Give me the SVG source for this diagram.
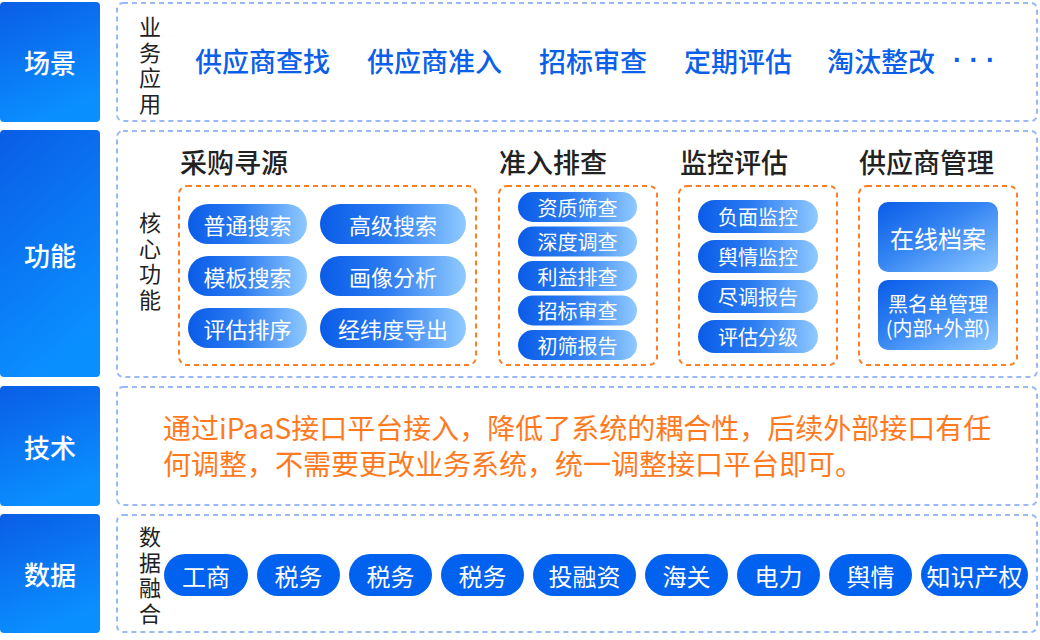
<svg xmlns="http://www.w3.org/2000/svg" width="1040" height="640" viewBox="0 0 1040 640">
<defs>
  <linearGradient id="side" x1="0" y1="0" x2="0.35" y2="1">
    <stop offset="0" stop-color="#0a5de6"/>
    <stop offset="1" stop-color="#0a8fff"/>
  </linearGradient>
  <linearGradient id="pill" x1="0" y1="0" x2="1" y2="0">
    <stop offset="0" stop-color="#0a5ce8"/>
    <stop offset="0.45" stop-color="#2b7bf1"/>
    <stop offset="1" stop-color="#90caff"/>
  </linearGradient>
  <linearGradient id="card" x1="0" y1="0" x2="1" y2="1">
    <stop offset="0" stop-color="#0a5ce8"/>
    <stop offset="0.45" stop-color="#3585f3"/>
    <stop offset="1" stop-color="#90caff"/>
  </linearGradient>
  <style>
    text { font-family: "Noto Sans CJK SC", "Noto Sans", sans-serif; }
    .side { fill: url(#side); }
    .sidet { fill: #ffffff; font-size: 26px; font-weight: 500; text-anchor: middle; dominant-baseline: central; }
    .panel { fill: #ffffff; stroke: #98b9f6; stroke-width: 2; stroke-dasharray: 5 4; }
    .obox { fill: none; stroke: #ff7d23; stroke-width: 2; stroke-dasharray: 5 4; }
    .vlab { fill: #222222; font-size: 22px; writing-mode: vertical-rl; letter-spacing: 3.5px; }
    .scene { fill: #0b5fe8; font-size: 27px; font-weight: 500; dominant-baseline: central; }
    .dots { fill: #0b5fe8; font-family: "Liberation Sans", sans-serif; font-size: 27px; font-weight: 700; text-anchor: middle; dominant-baseline: central; }
    .title { fill: #222222; font-size: 27px; font-weight: 500; dominant-baseline: central; }
    .pill { fill: url(#pill); }
    .card { fill: url(#card); }
    .pt22 { fill: #ffffff; font-size: 22px; text-anchor: middle; dominant-baseline: central; }
    .pt20 { fill: #ffffff; font-size: 20px; text-anchor: middle; dominant-baseline: central; }
    .pt24 { fill: #ffffff; font-size: 24px; text-anchor: middle; dominant-baseline: central; }
    .tech { fill: #ff7a1e; font-size: 28px; dominant-baseline: central; }
    .data { fill: #0062ee; }
  </style>
</defs>

<!-- Row 1: 场景 -->
<g id="row-scene">
  <rect class="side" x="0" y="2" width="100" height="120" rx="4"/>
  <text class="sidet" x="50" y="61">场景</text>
  <rect class="panel" x="117" y="3" width="920" height="118" rx="6"/>
  <text class="vlab" x="150" y="16">业务应用</text>
  <text class="scene" x="195" y="60">供应商查找</text>
  <text class="scene" x="367" y="60">供应商准入</text>
  <text class="scene" x="539" y="60">招标审查</text>
  <text class="scene" x="684" y="60">定期评估</text>
  <text class="scene" x="827" y="60">淘汰整改</text>
  <text class="dots" x="974" y="60">· · ·</text>
</g>

<!-- Row 2: 功能 -->
<g id="row-func">
  <rect class="side" x="0" y="130" width="100" height="247" rx="4"/>
  <text class="sidet" x="50" y="254">功能</text>
  <rect class="panel" x="117" y="131" width="920" height="246" rx="6"/>
  <text class="vlab" x="150" y="212">核心功能</text>
</g>

<g id="group-sourcing">
  <text class="title" x="180" y="161">采购寻源</text>
  <rect class="obox" x="179" y="186" width="297" height="179" rx="8"/>
  <rect class="pill" x="188" y="204" width="119" height="40" rx="20"/>
  <text class="pt22" x="247.5" y="224">普通搜索</text>
  <rect class="pill" x="320" y="204" width="146" height="40" rx="20"/>
  <text class="pt22" x="393" y="224">高级搜索</text>
  <rect class="pill" x="188" y="256" width="119" height="40" rx="20"/>
  <text class="pt22" x="247.5" y="276">模板搜索</text>
  <rect class="pill" x="320" y="256" width="146" height="40" rx="20"/>
  <text class="pt22" x="393" y="276">画像分析</text>
  <rect class="pill" x="188" y="308" width="119" height="40" rx="20"/>
  <text class="pt22" x="247.5" y="328">评估排序</text>
  <rect class="pill" x="320" y="308" width="146" height="40" rx="20"/>
  <text class="pt22" x="393" y="328">经纬度导出</text>
</g>

<g id="group-admission">
  <text class="title" x="499" y="161">准入排查</text>
  <rect class="obox" x="499" y="186" width="158" height="179" rx="8"/>
  <rect class="pill" x="518" y="192" width="119" height="30" rx="15"/>
  <text class="pt20" x="577.5" y="207">资质筛查</text>
  <rect class="pill" x="518" y="226.5" width="119" height="30" rx="15"/>
  <text class="pt20" x="577.5" y="241.5">深度调查</text>
  <rect class="pill" x="518" y="261" width="119" height="30" rx="15"/>
  <text class="pt20" x="577.5" y="276">利益排查</text>
  <rect class="pill" x="518" y="295.5" width="119" height="30" rx="15"/>
  <text class="pt20" x="577.5" y="310.5">招标审查</text>
  <rect class="pill" x="518" y="330" width="119" height="30" rx="15"/>
  <text class="pt20" x="577.5" y="345">初筛报告</text>
</g>

<g id="group-monitor">
  <text class="title" x="680" y="161">监控评估</text>
  <rect class="obox" x="679" y="186" width="158" height="179" rx="8"/>
  <rect class="pill" x="698" y="200" width="120" height="33" rx="16.5"/>
  <text class="pt20" x="758" y="216.5">负面监控</text>
  <rect class="pill" x="698" y="240" width="120" height="33" rx="16.5"/>
  <text class="pt20" x="758" y="256.5">舆情监控</text>
  <rect class="pill" x="698" y="280" width="120" height="33" rx="16.5"/>
  <text class="pt20" x="758" y="296.5">尽调报告</text>
  <rect class="pill" x="698" y="320" width="120" height="33" rx="16.5"/>
  <text class="pt20" x="758" y="336.5">评估分级</text>
</g>

<g id="group-supplier">
  <text class="title" x="859" y="161">供应商管理</text>
  <rect class="obox" x="859" y="186" width="158" height="179" rx="8"/>
  <rect class="card" x="878" y="202" width="120" height="70" rx="10"/>
  <text class="pt24" x="938" y="237">在线档案</text>
  <rect class="card" x="878" y="280" width="120" height="70" rx="10"/>
  <text class="pt20"><tspan x="938" y="303">黑名单管理</tspan><tspan x="938" y="327">(内部+外部)</tspan></text>
</g>

<!-- Row 3: 技术 -->
<g id="row-tech">
  <rect class="side" x="0" y="386" width="100" height="120" rx="4"/>
  <text class="sidet" x="50" y="446">技术</text>
  <rect class="panel" x="117" y="387" width="920" height="118" rx="6"/>
  <text class="tech"><tspan x="163" y="427">通过iPaaS接口平台接入，降低了系统的耦合性，后续外部接口有任</tspan><tspan x="163" y="463">何调整，不需要更改业务系统，统一调整接口平台即可。</tspan></text>
</g>

<!-- Row 4: 数据 -->
<g id="row-data">
  <rect class="side" x="0" y="514" width="100" height="119" rx="4"/>
  <text class="sidet" x="50" y="573.5">数据</text>
  <rect class="panel" x="117" y="515" width="920" height="117" rx="6"/>
  <text class="vlab" x="150" y="526">数据融合</text>
</g>

<g id="data-sources">
  <rect class="data" x="164" y="554" width="84" height="42" rx="21"/>
  <text class="pt24" x="206" y="575">工商</text>
  <rect class="data" x="257" y="554" width="83" height="42" rx="21"/>
  <text class="pt24" x="298.5" y="575">税务</text>
  <rect class="data" x="349" y="554" width="83" height="42" rx="21"/>
  <text class="pt24" x="390.5" y="575">税务</text>
  <rect class="data" x="441" y="554" width="83" height="42" rx="21"/>
  <text class="pt24" x="482.5" y="575">税务</text>
  <rect class="data" x="533" y="554" width="103" height="42" rx="21"/>
  <text class="pt24" x="584.5" y="575">投融资</text>
  <rect class="data" x="645" y="554" width="83" height="42" rx="21"/>
  <text class="pt24" x="686.5" y="575">海关</text>
  <rect class="data" x="737" y="554" width="83" height="42" rx="21"/>
  <text class="pt24" x="778.5" y="575">电力</text>
  <rect class="data" x="829" y="554" width="83" height="42" rx="21"/>
  <text class="pt24" x="870.5" y="575">舆情</text>
  <rect class="data" x="921" y="554" width="107" height="42" rx="21"/>
  <text class="pt24" x="974.5" y="575">知识产权</text>
</g>
</svg>
